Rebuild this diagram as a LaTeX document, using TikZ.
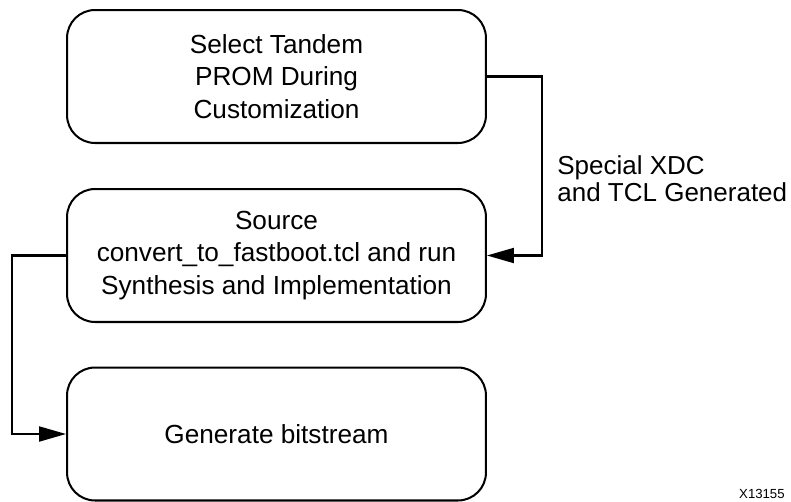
\documentclass[tikz,border=0pt]{standalone}
\usepackage{fontspec}
\setmainfont{Liberation Sans}
\usepackage{xcolor}
\usetikzlibrary{arrows.meta,calc,positioning}
\definecolor{flowLine}{HTML}{000000}
\tikzset{
  stepbox/.style={draw=flowLine, line width=1.15pt, rounded corners=0.56cm,
    minimum width=8.38cm, minimum height=2.66cm, align=center,
    font=\fontsize{14.9}{18.6}\selectfont},
  flowarrow/.style={draw=flowLine, line width=1.15pt,
    -{Triangle[length=0.54cm, width=0.3cm]}}
}

\begin{document}
\begin{tikzpicture}[x=0.02cm, y=-0.02cm]
    \useasboundingbox (0,0) rectangle (791,501);
    \node[stepbox] (select) at (276.5,76.5) {Select Tandem\\PROM During\\Customization};
    \node[stepbox] (source) at (276.5,255.5) {Source\\convert\_to\_fastboot.tcl and run\\ Synthesis and Implementation};
    \node[stepbox] (bitgen) at (276.5,434) {Generate bitstream};
    \draw[flowarrow] (select.east) -- ++(55,0) |- (source.east);
    \draw[flowarrow] (source.west) -- ++(-54,0) |- (bitgen.west);
    \node[anchor=west, align=left, inner sep=0pt, font=\fontsize{14.8}{15.4}\selectfont] (xdc) at (557,179) {Special XDC\\and TCL Generated};
    \node[anchor=base east, inner sep=0pt, font=\fontsize{7.5}{8}\selectfont] (figid) at (785,498) {X13155};
  \end{tikzpicture}
\end{document}
